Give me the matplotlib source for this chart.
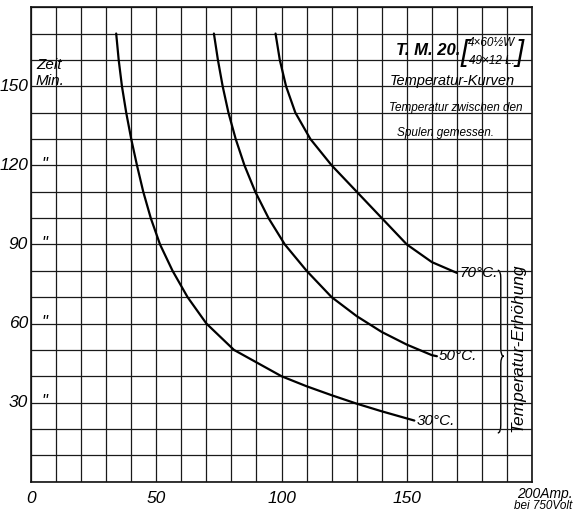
import matplotlib
matplotlib.use("Agg")
import matplotlib.pyplot as plt
from matplotlib.path import Path
from matplotlib.patches import PathPatch

plt.rcParams["font.family"] = ["Liberation Sans", "DejaVu Sans"]
plt.rcParams["font.style"] = "italic"

# Strom (Amp.) gegen Zeit (Min.), je Temperatur-Erhoehung
amp_30 = [34, 35, 36.3, 38, 40, 42.3, 44.8, 47.8, 51.5, 56.5, 62.5, 70, 81, 100, 110, 120, 130, 140, 150, 153]
min_30 = [170, 160, 150, 140, 130, 120, 110, 100, 90, 80, 70, 60, 50, 40, 36.2, 32.8, 29.6, 26.7, 24.0, 23.2]

amp_50 = [73, 74.6, 76.5, 78.8, 81.7, 85.2, 89.5, 94.8, 101.3, 110, 120, 130, 140, 150, 160, 162]
min_50 = [170, 160, 150, 140, 130, 120, 110, 100, 90, 80, 70, 62.8, 56.8, 52, 48, 47.6]

amp_70 = [97.6, 99.3, 101.8, 105.5, 111.5, 120, 130, 140, 150, 160, 170]
min_70 = [170, 160, 150, 140, 130, 120, 110, 100, 90, 83.3, 79.2]

curve_labels = ["30°C.", "50°C.", "70°C."]
x_ticklabels = [0, 50, 100, 150]
y_ticklabels = [30, 60, 90, 120]

fig = plt.figure(figsize=(5.74, 5.13), dpi=100)
ax = fig.add_axes([0.054, 0.061, 0.873, 0.925])
ax.set_xlim(0, 200)
ax.set_ylim(0, 180)

# Millimeterpapier-Raster
ax.set_xticks(range(0, 201, 10))
ax.set_yticks(range(0, 181, 10))
ax.grid(True, color="#1a1a1a", lw=0.9)
ax.tick_params(length=0, labelbottom=False, labelleft=False)
for s in ax.spines.values():
    s.set_color("#111111")
    s.set_linewidth(1.2)

for xs, ys, lab in zip([amp_30, amp_50, amp_70], [min_30, min_50, min_70], curve_labels):
    ax.plot(xs, ys, color="black", lw=1.6, solid_capstyle="round", solid_joinstyle="round")
    ax.text(xs[-1] + 0.8, ys[-1], lab, fontsize=11, ha="left", va="center")

# Achsenbeschriftung
for v in x_ticklabels:
    ax.text(v, -3.5, str(v), fontsize=12.5, ha="center", va="top", clip_on=False)
fig.text(0.997, 0.050, "200Amp.", fontsize=10, ha="right", va="top")
fig.text(0.997, 0.025, "bei 750Volt", fontsize=8.5, ha="right", va="top")

for v in y_ticklabels:
    ax.text(-1.2, v, str(v), fontsize=12.5, ha="right", va="center", clip_on=False)
    ax.text(5.5, v + 0.5, '"', fontsize=12, ha="center", va="center")
ax.text(-1.2, 150, "150", fontsize=12.5, ha="right", va="center", clip_on=False)
ax.text(2.0, 158.0, "Zeit", fontsize=11, ha="left", va="center")
ax.text(2.0, 150.6, "Min.", fontsize=11, ha="left", va="baseline")

# Titel
ax.text(145.5, 163.5, "T. M. 20.", fontsize=12, fontweight="bold", ha="left", va="center")
ax.text(171.6, 162.8, "[", fontsize=21, ha="left", va="center")
ax.text(193.2, 162.8, "]", fontsize=21, ha="left", va="center")
ax.text(174.4, 166.3, "4×60½W", fontsize=8.5, ha="left", va="center")
ax.text(174.8, 159.6, "49×12 L.", fontsize=8.5, ha="left", va="center")
ax.text(143, 150.6, "Temperatur-Kurven", fontsize=10.5, ha="left", va="baseline")
ax.text(143, 140.6, "Temperatur zwischen den", fontsize=8.5, ha="left", va="baseline")
ax.text(146, 131.0, "Spulen gemessen.", fontsize=8.5, ha="left", va="baseline")

# geschweifte Klammer rechts
bx, bw, d = 186.3, 2.4, 3.0
y_top, y_bot = min_70[-1] + 1, 18.5
y_mid = min_50[-1]
verts = [
    (bx, y_top), (bx + bw / 2, y_top), (bx + bw / 2, y_top - d),
    (bx + bw / 2, y_mid + d),
    (bx + bw / 2, y_mid), (bx + bw, y_mid),
    (bx + bw / 2, y_mid), (bx + bw / 2, y_mid - d),
    (bx + bw / 2, y_bot + d),
    (bx + bw / 2, y_bot), (bx, y_bot),
]
codes = [Path.MOVETO, Path.CURVE3, Path.CURVE3, Path.LINETO,
         Path.CURVE3, Path.CURVE3, Path.CURVE3, Path.CURVE3,
         Path.LINETO, Path.CURVE3, Path.CURVE3]
ax.add_patch(PathPatch(Path(verts, codes), fill=False, lw=1.0, color="black"))
ax.text(194.3, 51, "Temperatur-Erhöhung", fontsize=12.5, rotation=90, ha="center", va="center")

fig.savefig("out.png", dpi=100, facecolor="white")
